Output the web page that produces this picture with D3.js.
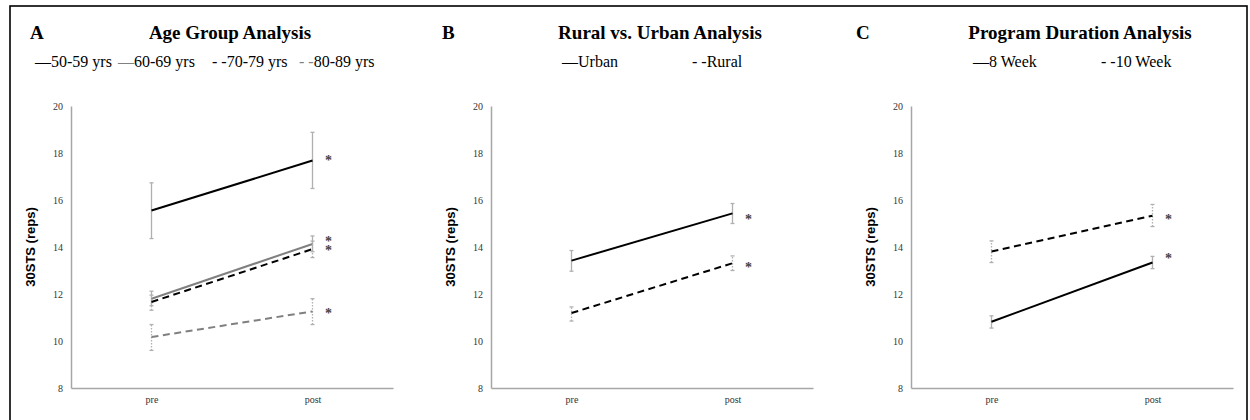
<!DOCTYPE html>
<html>
<head>
<meta charset="utf-8">
<script src="https://cdn.jsdelivr.net/npm/d3@7"></script>
<style>
  body { margin: 0; background: #fff; }
  svg { display: block; }
</style>
</head>
<body>
<div id="chart"></div>
<script>
// time points
var timepoints = ["pre", "post"];
var yTicks = [8, 10, 12, 14, 16, 18, 20];

// panel A: age groups (mean, lower, upper of error bar, asterisk position)
var ageNames = ["50-59 yrs", "60-69 yrs", "70-79 yrs", "80-89 yrs"];
var ageMean  = [[15.55, 17.68], [11.80, 14.13], [11.66, 13.91], [10.17, 11.26]];
var ageLow   = [[14.36, 16.49], [11.50, 13.80], [11.31, 13.55], [9.60, 10.70]];
var ageHigh  = [[16.73, 18.88], [12.12, 14.47], [11.95, 14.25], [10.70, 11.80]];
var ageStar  = [17.83, 14.39, 14.00, 11.31];

// panel B: rural vs urban
var areaNames = ["Urban", "Rural"];
var areaMean  = [[13.42, 15.43], [11.19, 13.31]];
var areaLow   = [[12.97, 15.00], [10.85, 13.00]];
var areaHigh  = [[13.85, 15.85], [11.45, 13.62]];
var areaStar  = [15.31, 13.28];

// panel C: program duration
var durNames = ["8 Week", "10 Week"];
var durMean  = [[10.82, 13.34], [13.81, 15.33]];
var durLow   = [[10.55, 13.08], [13.34, 14.87]];
var durHigh  = [[11.07, 13.60], [14.26, 15.81]];
var durStar  = [13.64, 15.31];

(function () {
    var W = 1250, H = 420;
    var plotW = 322, plotTop = 106, plotBottom = 388;
    var serif = "'Liberation Serif', 'Times New Roman', serif";

    var svg = d3.select("#chart").append("svg")
        .attr("width", W)
        .attr("height", H);

    // outer frame
    svg.append("rect")
        .attr("x", 10).attr("y", 6)
        .attr("width", 1237).attr("height", 430)
        .attr("fill", "none")
        .attr("stroke", "#000")
        .attr("stroke-width", 1.6);

    var panels = [
        { letter: "A", title: "Age Group Analysis", x0: 71, letterDx: -41, titleDx: 159,
          names: ageNames, mean: ageMean, low: ageLow, high: ageHigh, star: ageStar,
          color: ["#000", "#808080", "#000", "#808080"], dashed: [false, false, true, true],
          legendX: [35, 118, 212, 299] },
        { letter: "B", title: "Rural vs. Urban Analysis", x0: 491, letterDx: -49, titleDx: 169,
          names: areaNames, mean: areaMean, low: areaLow, high: areaHigh, star: areaStar,
          color: ["#000", "#000"], dashed: [false, true],
          legendX: [562, 692] },
        { letter: "C", title: "Program Duration Analysis", x0: 911, letterDx: -55, titleDx: 169,
          names: durNames, mean: durMean, low: durLow, high: durHigh, star: durStar,
          color: ["#000", "#000"], dashed: [false, true],
          legendX: [973, 1101] }
    ];

    var y = d3.scaleLinear().domain([8, 20]).range([plotBottom, plotTop]);

    panels.forEach(function (p) {
        var x = d3.scalePoint().domain(timepoints).range([0, plotW]).padding(0.5);
        var g = svg.append("g").attr("transform", "translate(" + p.x0 + ",0)");

        // header
        svg.append("text")
            .attr("x", p.x0 + p.letterDx).attr("y", 39)
            .style("font", "bold 19px " + serif)
            .text(p.letter);
        svg.append("text")
            .attr("x", p.x0 + p.titleDx).attr("y", 39)
            .attr("text-anchor", "middle")
            .style("font", "bold 19px " + serif)
            .text(p.title);

        // legend: dash glyphs as text like the original
        p.names.forEach(function (name, i) {
            var t = svg.append("text")
                .attr("x", p.legendX[i]).attr("y", 67)
                .style("font", "16px " + serif);
            t.append("tspan")
                .attr("fill", p.color[i])
                .text(p.dashed[i] ? "- -" : "\u2014");
            t.append("tspan").attr("fill", "#000").text(name);
        });

        // axes
        var yAxis = g.append("g").call(d3.axisLeft(y).tickValues(yTicks).tickSize(0).tickPadding(8));
        yAxis.select(".domain").attr("stroke", "#a6a6a6").attr("stroke-width", 1.5);
        yAxis.selectAll("text")
            .attr("fill", "#333")
            .style("font", "10px " + serif);

        var xAxis = g.append("g").attr("transform", "translate(0," + plotBottom + ")")
            .call(d3.axisBottom(x).tickSize(0).tickPadding(8));
        xAxis.select(".domain").attr("stroke", "#a6a6a6").attr("stroke-width", 1.5);
        xAxis.selectAll("text")
            .attr("fill", "#333")
            .style("font", "10px " + serif);

        g.append("text")
            .attr("transform", "translate(-41," + ((plotTop + plotBottom) / 2) + ") rotate(-90)")
            .attr("text-anchor", "middle")
            .attr("dy", "0.35em")
            .style("font", "bold 13px 'Liberation Sans', Arial, sans-serif")
            .text("30STS (reps)");

        var line = d3.line()
            .x(function (d, j) { return x(timepoints[j]); })
            .y(function (d) { return y(d); });

        p.names.forEach(function (name, i) {
            // error bars
            timepoints.forEach(function (tp, j) {
                var eb = g.append("g").attr("stroke", "#b0b0b0").attr("stroke-width", 1.3);
                var stem = eb.append("line")
                    .attr("x1", x(tp)).attr("x2", x(tp))
                    .attr("y1", y(p.low[i][j])).attr("y2", y(p.high[i][j]));
                if (p.dashed[i]) stem.attr("stroke-dasharray", "1.5,1.5");
                [p.low[i][j], p.high[i][j]].forEach(function (v) {
                    eb.append("line")
                        .attr("x1", x(tp) - 2).attr("x2", x(tp) + 2)
                        .attr("y1", y(v)).attr("y2", y(v));
                });
            });

            g.append("path")
                .datum(p.mean[i])
                .attr("d", line)
                .attr("fill", "none")
                .attr("stroke", p.color[i])
                .attr("stroke-width", 2)
                .attr("stroke-dasharray", p.dashed[i] ? "7,4.5" : null);

            g.append("text")
                .attr("x", x("post") + 16)
                .attr("y", y(p.star[i]))
                .attr("text-anchor", "middle")
                .attr("dy", "0.55em")
                .attr("fill", "#444")
                .style("font", "bold 14px " + serif)
                .text("*");
        });
    });
})();
</script>
</body>
</html>
